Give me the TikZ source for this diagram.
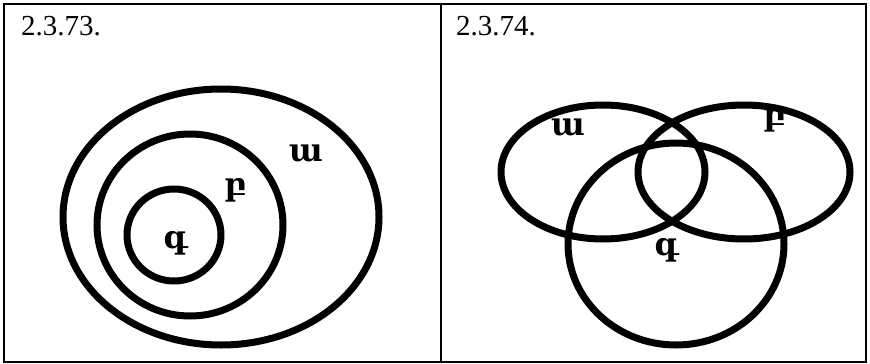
\documentclass[tikz,border=0pt]{standalone}
\usepackage{fontspec}
\setmainfont{Liberation Serif}
\newfontfamily\armfont[Script=Armenian]{DejaVu Serif}
\begin{document}
\begin{tikzpicture}[x=1pt,y=-1pt,
  frame/.style={line width=2pt},
  setline/.style={line width=7pt},
  title/.style={font=\fontsize{29}{32}\selectfont, anchor=base west, inner sep=0pt},
  lab/.style={font=\armfont\bfseries\fontsize{32}{34}\selectfont, inner sep=0pt}]
\useasboundingbox (0,0) rectangle (870,364);
% table frame
\draw[frame] (4,4) rectangle (866,362);
\draw[frame] (441,4) -- (441,362);
\node[title] (t1) at (21,35) {2.3.73.};
\node[title] (t2) at (456,35) {2.3.74.};
% left diagram
\draw[setline] (221,217) ellipse [x radius=158, y radius=128];
\draw[setline] (190,225) ellipse [x radius=93, y radius=91];
\draw[setline] (174,235) ellipse [x radius=47, y radius=46];
\node[lab] (la) at (306,153) {ա};
\node[lab] (lb) at (236,190) {բ};
\node[lab] (lg) at (176,243) {գ};
% right diagram
\draw[setline] (603,172) ellipse [x radius=102, y radius=67];
\draw[setline] (744,172) ellipse [x radius=106, y radius=67];
\draw[setline] (676,244) ellipse [x radius=108, y radius=101];
\node[lab] (ra) at (568,127) {ա};
\node[lab] (rb) at (775,120) {բ};
\node[lab] (rg) at (667,250) {գ};
\end{tikzpicture}
\end{document}
